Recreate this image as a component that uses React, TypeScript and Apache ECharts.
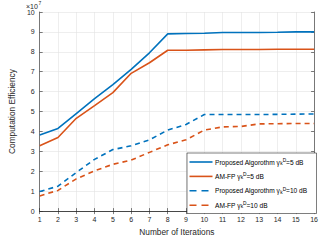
import React, { useEffect, useRef } from "react";
import * as echarts from "echarts";

const iterations = ["1", "2", "3", "4", "5", "6", "7", "8", "9", "10", "11", "12", "13", "14", "15", "16"];
const propSolid = [3.82, 4.15, 4.9, 5.65, 6.35, 7.12, 7.95, 8.9, 8.92, 8.93, 8.97, 8.97, 8.97, 8.98, 9.0, 9.0];
const amfpSolid = [3.28, 3.7, 4.66, 5.3, 5.95, 6.92, 7.45, 8.08, 8.08, 8.1, 8.12, 8.12, 8.12, 8.13, 8.13, 8.13];
const propDashed = [0.98, 1.25, 1.94, 2.6, 3.09, 3.28, 3.58, 4.07, 4.35, 4.85, 4.85, 4.85, 4.85, 4.86, 4.87, 4.88];
const amfpDashed = [0.76, 1.04, 1.62, 2.02, 2.35, 2.56, 2.95, 3.33, 3.58, 4.07, 4.23, 4.25, 4.38, 4.39, 4.4, 4.4];
const yTicks = [0, 1, 2, 3, 4, 5, 6, 7, 8, 9, 10];

const seriesNames = [
  "Proposed Algorothm γkD=5 dB",
  "AM-FP γkD=5 dB",
  "Proposed Algorothm γkD=10 dB",
  "AM-FP γkD=10 dB",
];
const legendRich = [
  "Proposed Algorothm γ{sub|k}{sup|D}=5 dB",
  "AM-FP γ{sub|k}{sup|D}=5 dB",
  "Proposed Algorothm γ{sub|k}{sup|D}=10 dB",
  "AM-FP γ{sub|k}{sup|D}=10 dB",
];

const BLUE = "#0072BD";
const ORANGE = "#D95319";

export default function App() {
  const ref = useRef<HTMLDivElement>(null);
  useEffect(() => {
    if (!ref.current) return;
    const chart = echarts.init(ref.current, null, { renderer: "svg" });
    const font = "Liberation Sans, Arial, sans-serif";
    const colors = [BLUE, ORANGE, BLUE, ORANGE];
    const dashedFlags = [false, false, true, true];
    const mk = (i: number, data: number[]) => ({
      name: seriesNames[i],
      type: "line",
      data,
      symbol: "none",
      lineStyle: { color: colors[i], width: 1.6, type: dashedFlags[i] ? [5, 4] : "solid" },
      itemStyle: { color: colors[i] },
    });
    const legendTop = 153;
    const legendLeft = 187;
    const rowY = [162, 176.4, 190.8, 205.2];
    const legendGraphics: any[] = [
      {
        type: "rect",
        z: 100,
        shape: { x: legendLeft, y: legendTop, width: 316.5 - legendLeft, height: 60.5 },
        style: { fill: "#ffffff", stroke: "#262626", lineWidth: 0.6 },
      },
    ];
    rowY.forEach((y, i) => {
      legendGraphics.push({
        type: "line",
        z: 101,
        shape: { x1: 189.5, y1: y, x2: 212.5, y2: y },
        style: {
          stroke: colors[i],
          lineWidth: 1.6,
          lineDash: dashedFlags[i] ? [7, 5] : null,
        },
      });
      legendGraphics.push({
        type: "text",
        z: 101,
        x: 215,
        y: y,
        style: {
          text: legendRich[i],
          fontSize: 6.6,
          fontFamily: font,
          fill: "#000000",
          verticalAlign: "middle",
          rich: {
            sup: { fontSize: 4.8, fontFamily: font, fill: "#000", padding: [0, 0, 3.5, 0] },
            sub: { fontSize: 4.8, fontFamily: font, fill: "#000", padding: [3, 0, 0, 0] },
          },
        },
      });
    });
    chart.setOption({
      animation: false,
      textStyle: { fontFamily: font },
      grid: { left: 25, right: 4.5, top: 12, bottom: 25, containLabel: false },
      xAxis: [
        {
          type: "category",
          data: iterations,
          boundaryGap: false,
          name: "Number of Iterations",
          nameLocation: "middle",
          nameGap: 16,
          nameTextStyle: { fontSize: 8.3, color: "#262626" },
          axisLine: { lineStyle: { color: "#262626", width: 0.6 } },
          axisTick: { inside: true, length: 3, lineStyle: { color: "#262626", width: 0.6 } },
          axisLabel: { fontSize: 7, color: "#262626", margin: 5 },
          splitLine: { show: true, lineStyle: { color: "#e3e3e3", width: 0.6 } },
        },
        {
          type: "category",
          data: iterations,
          boundaryGap: false,
          position: "top",
          axisLine: { lineStyle: { color: "#262626", width: 0.6 } },
          axisTick: { inside: true, length: 3, lineStyle: { color: "#262626", width: 0.6 } },
          axisLabel: { show: false },
          splitLine: { show: false },
        },
      ],
      yAxis: [
        {
          type: "value",
          min: yTicks[0],
          max: yTicks[yTicks.length - 1],
          interval: 1,
          name: "Computation Efficiency",
          nameLocation: "middle",
          nameGap: 14,
          nameTextStyle: { fontSize: 8.3, color: "#262626" },
          axisLine: { show: true, lineStyle: { color: "#262626", width: 0.6 } },
          axisTick: { show: true, inside: true, length: 3, lineStyle: { color: "#262626", width: 0.6 } },
          axisLabel: { fontSize: 7, color: "#262626", margin: 5 },
          splitLine: { show: true, lineStyle: { color: "#e3e3e3", width: 0.6 } },
        },
        {
          type: "value",
          min: yTicks[0],
          max: yTicks[yTicks.length - 1],
          interval: 1,
          position: "right",
          axisLine: { show: true, lineStyle: { color: "#262626", width: 0.6 } },
          axisTick: { show: true, inside: true, length: 3, lineStyle: { color: "#262626", width: 0.6 } },
          axisLabel: { show: false },
          splitLine: { show: false },
        },
      ],
      graphic: [
        {
          type: "text",
          x: 26,
          y: 3,
          style: { text: "×10", fontSize: 7, fill: "#262626", fontFamily: font, verticalAlign: "top" },
        },
        {
          type: "text",
          x: 38.5,
          y: 0.5,
          style: { text: "7", fontSize: 5, fill: "#262626", fontFamily: font, verticalAlign: "top" },
        },
        ...legendGraphics,
      ],
      series: [mk(0, propSolid), mk(1, amfpSolid), mk(2, propDashed), mk(3, amfpDashed)],
    });
    return () => chart.dispose();
  }, []);
  return <div ref={ref} style={{ width: 321, height: 241, position: "absolute", left: 0, top: 0, background: "#fff" }} />;
}
